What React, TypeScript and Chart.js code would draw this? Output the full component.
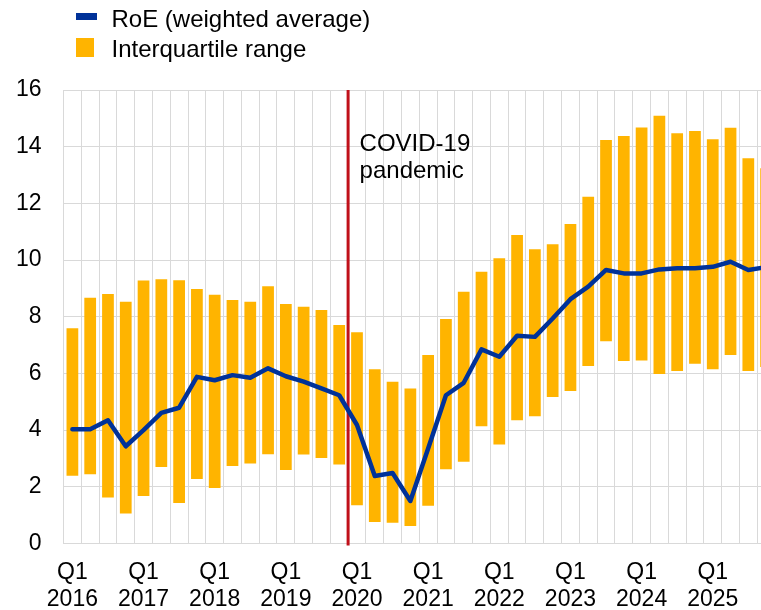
import React, { useEffect, useRef } from "react";
import { Chart, registerables } from "chart.js";

Chart.register(...registerables);

const categories = [
  "Q1 2016", "Q2 2016", "Q3 2016", "Q4 2016",
  "Q1 2017", "Q2 2017", "Q3 2017", "Q4 2017",
  "Q1 2018", "Q2 2018", "Q3 2018", "Q4 2018",
  "Q1 2019", "Q2 2019", "Q3 2019", "Q4 2019",
  "Q1 2020", "Q2 2020", "Q3 2020", "Q4 2020",
  "Q1 2021", "Q2 2021", "Q3 2021", "Q4 2021",
  "Q1 2022", "Q2 2022", "Q3 2022", "Q4 2022",
  "Q1 2023", "Q2 2023", "Q3 2023", "Q4 2023",
  "Q1 2024", "Q2 2024", "Q3 2024", "Q4 2024",
  "Q1 2025", "Q2 2025", "Q3 2025", "Q4 2025",
];

const iqrLow = [
  2.39, 2.44, 1.62, 1.06, 1.68, 2.7, 1.43, 2.28, 1.96, 2.73,
  2.82, 3.15, 2.59, 3.14, 3.02, 2.79, 1.35, 0.76, 0.73, 0.62,
  1.33, 2.62, 2.88, 4.14, 3.49, 4.35, 4.49, 5.17, 5.38, 6.26,
  7.14, 6.44, 6.46, 5.98, 6.09, 6.34, 6.15, 6.65, 6.09, 6.23,
];

const iqrHigh = [
  7.59, 8.67, 8.8, 8.53, 9.28, 9.32, 9.29, 8.98, 8.78, 8.59,
  8.53, 9.08, 8.45, 8.35, 8.24, 7.71, 7.45, 6.15, 5.71, 5.47,
  6.65, 7.92, 8.88, 9.59, 10.06, 10.88, 10.38, 10.56, 11.27, 12.23,
  14.24, 14.38, 14.68, 15.09, 14.47, 14.55, 14.26, 14.67, 13.59, 13.24,
];

const roe = [
  4.03, 4.03, 4.35, 3.43, 4.0, 4.61, 4.79, 5.88, 5.76, 5.94,
  5.85, 6.18, 5.9, 5.71, 5.47, 5.23, 4.18, 2.38, 2.49, 1.5,
  3.35, 5.23, 5.67, 6.85, 6.59, 7.33, 7.29, 7.94, 8.62, 9.06,
  9.65, 9.53, 9.53, 9.67, 9.71, 9.71, 9.76, 9.94, 9.65, 9.75,
];

const yTicks = [0, 2, 4, 6, 8, 10, 12, 14, 16];
const legendLabels = ["RoE (weighted average)", "Interquartile range"];
const annotationLines = ["COVID-19", "pandemic"];
const covidAfterIndex = 15; // line between Q4 2019 and Q1 2020

const FONT = "'Liberation Sans', Arial, sans-serif";
const BLUE = "#003299";
const ORANGE = "#FFB400";
const RED = "#C0101A";
const GRID = "#D9D9D9";

const overlayPlugin = {
  id: "overlay",
  beforeDatasetsDraw(chart: any) {
    const { ctx, chartArea, scales } = chart;
    const x =
      (scales.x.getPixelForValue(covidAfterIndex) +
        scales.x.getPixelForValue(covidAfterIndex + 1)) /
      2;
    ctx.save();
    ctx.strokeStyle = RED;
    ctx.lineWidth = 3;
    ctx.beginPath();
    ctx.moveTo(x, chartArea.top);
    ctx.lineTo(x, chartArea.bottom + 2);
    ctx.stroke();
    ctx.fillStyle = "#000";
    ctx.font = `24px ${FONT}`;
    ctx.textAlign = "left";
    ctx.textBaseline = "alphabetic";
    ctx.fillText(annotationLines[0], x + 11.5, 150.7);
    ctx.fillText(annotationLines[1], x + 11.5, 178.4);
    ctx.restore();
  },
  afterDraw(chart: any) {
    const { ctx } = chart;
    ctx.save();
    ctx.fillStyle = BLUE;
    ctx.fillRect(76, 13, 21, 7);
    ctx.fillStyle = ORANGE;
    ctx.fillRect(76, 38, 18, 19);
    ctx.fillStyle = "#000";
    ctx.font = `24px ${FONT}`;
    ctx.textAlign = "left";
    ctx.textBaseline = "alphabetic";
    ctx.fillText(legendLabels[0], 111.5, 26.7);
    ctx.fillText(legendLabels[1], 111.5, 56.7);
    ctx.restore();
  },
};

export default function App() {
  const ref = useRef<HTMLCanvasElement>(null);

  useEffect(() => {
    if (!ref.current) return;
    const chart = new Chart(ref.current, {
      type: "bar",
      data: {
        labels: categories,
        datasets: [
          {
            type: "line",
            label: legendLabels[0],
            data: roe,
            borderColor: BLUE,
            backgroundColor: BLUE,
            borderWidth: 4.5,
            borderCapStyle: "round",
            borderJoinStyle: "round",
            pointRadius: 0,
            tension: 0,
            order: 0,
          } as any,
          {
            type: "bar",
            label: legendLabels[1],
            data: iqrLow.map((lo, i) => [lo, iqrHigh[i]]),
            backgroundColor: ORANGE,
            borderWidth: 0,
            categoryPercentage: 1,
            barPercentage: 0.66,
            order: 1,
          } as any,
        ],
      },
      options: {
        responsive: false,
        animation: false,
        layout: { padding: { top: 90, left: 0, right: 0, bottom: 0 } },
        plugins: {
          legend: { display: false },
          tooltip: { enabled: false },
        },
        scales: {
          x: {
            type: "category",
            offset: true,
            grid: { color: GRID, lineWidth: 1, offset: true, drawTicks: false },
            border: { color: GRID },
            ticks: {
              autoSkip: false,
              maxRotation: 0,
              minRotation: 0,
              padding: 15,
              color: "#000",
              font: { family: FONT, size: 23, lineHeight: 1.2 },
              callback: (_v: any, i: number) => {
                const c = categories[i];
                if (c.startsWith("Q1")) return c.split(" ");
                return "";
              },
            },
            afterFit: (s: any) => {
              s.height = 66.5;
              s.paddingLeft = 0;
              s.paddingRight = 0;
            },
          },
          y: {
            min: 0,
            max: 16,
            afterBuildTicks: (s: any) => {
              s.ticks = yTicks.map((v) => ({ value: v }));
            },
            grid: { color: GRID, lineWidth: 1, drawTicks: false },
            border: { color: GRID },
            ticks: {
              padding: 22,
              color: "#000",
              font: { family: FONT, size: 23 },
            },
            afterFit: (s: any) => {
              s.width = 63.5;
            },
          },
        },
      },
      plugins: [overlayPlugin],
    });
    return () => chart.destroy();
  }, []);

  return (
    <div
      style={{
        position: "fixed",
        left: 0,
        top: 0,
        width: 761,
        height: 610,
        overflow: "hidden",
        background: "#fff",
      }}
    >
      <canvas ref={ref} width={775} height={610} style={{ display: "block" }} />
    </div>
  );
}
